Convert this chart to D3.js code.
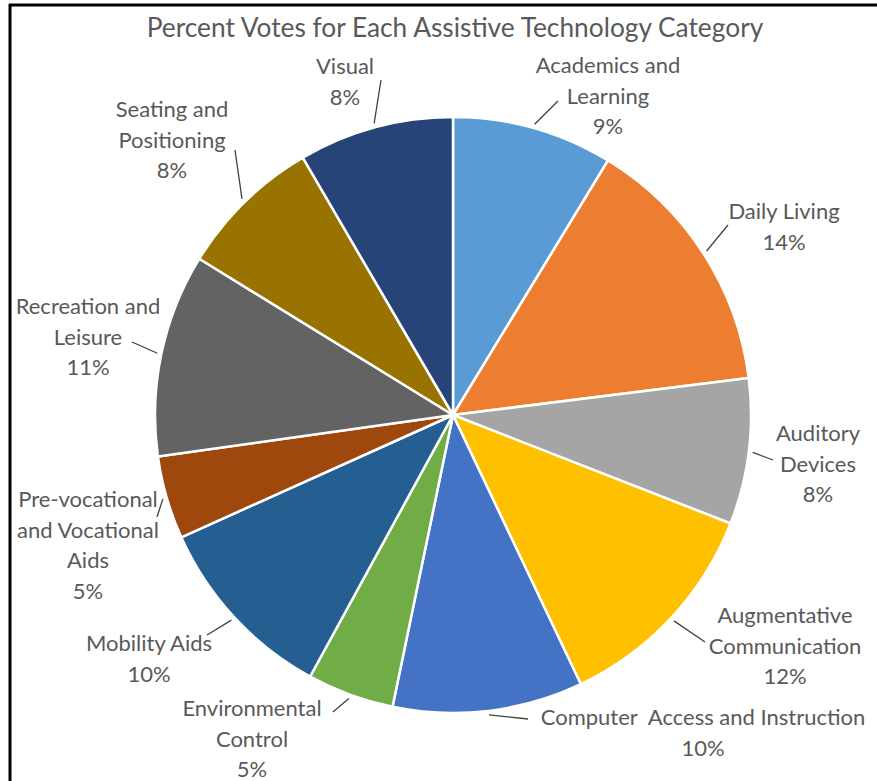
<!DOCTYPE html>
<html>
<head>
<meta charset="utf-8">
<script src="https://cdn.jsdelivr.net/npm/d3@7"></script>
<style>
  body { margin: 0; background: #fff; }
  svg { display: block; font-family: Lato, "Open Sans", sans-serif; }
</style>
</head>
<body>
<svg id="chart" width="877" height="781"></svg>
<script>
"use strict";

// slices, clockwise from 12 o'clock
let categories = [
    "Academics and Learning", "Daily Living", "Auditory Devices",
    "Augmentative Communication", "Computer  Access and Instruction",
    "Environmental Control", "Mobility Aids",
    "Pre-vocational and Vocational Aids", "Recreation and Leisure",
    "Seating and Positioning", "Visual"
];
let percents = [8.7, 14.3, 7.9, 12.0, 10.3, 4.7, 10.3, 4.5, 11.0, 7.8, 8.4];
let labelLines = [
    ["Academics and", "Learning"],
    ["Daily Living"],
    ["Auditory", "Devices"],
    ["Augmentative", "Communication"],
    ["Computer  Access and Instruction"],
    ["Environmental", "Control"],
    ["Mobility Aids"],
    ["Pre-vocational", "and Vocational", "Aids"],
    ["Recreation and", "Leisure"],
    ["Seating and", "Positioning"],
    ["Visual"]
];
let colors = ["#5b9bd5", "#ed7d31", "#a5a5a5", "#ffc000", "#4472c4", "#70ad47",
              "#255e91", "#9e480e", "#636363", "#997300", "#264478"];

// label placement: text centre x, first baseline y, leader end point
let labelLayout = [
    {x: 608, y: 73,  lx: 558, ly: 101},
    {x: 784, y: 219, lx: 728, ly: 225},
    {x: 818, y: 441, lx: 773, ly: 460},
    {x: 785, y: 623, lx: 705, ly: 642},
    {x: 703, y: 725, lx: 528, ly: 719},
    {x: 252, y: 716, lx: 333, ly: 712},
    {x: 149, y: 651, lx: 207, ly: 635},
    {x: 88,  y: 507, lx: 157, ly: 517},
    {x: 88,  y: 314, lx: 132, ly: 342},
    {x: 172, y: 117, lx: 235, ly: 150},
    {x: 345, y: 74,  lx: 381, ly: 80}
];

let width = 877, height = 781;
let cx = 453, cy = 415, radius = 298;
let lineHeight = 30.5;

let svg = d3.select("#chart");

// frame edges (top and left only, as in the screenshot)
svg.append("line")
    .attr("x1", 9).attr("y1", 5).attr("x2", width).attr("y2", 5)
    .style("stroke", "#000").style("stroke-width", 3);
svg.append("line")
    .attr("x1", 10).attr("y1", 4).attr("x2", 10).attr("y2", height)
    .style("stroke", "#000").style("stroke-width", 3);

svg.append("text")
    .attr("x", 455)
    .attr("y", 37)
    .attr("text-anchor", "middle")
    .style("font-size", "26.3px")
    .style("fill", "#595959")
    .text("Percent Votes for Each Assistive Technology Category");

let pie = d3.pie().sort(null).value(d => d);
let arcs = pie(percents);

let arc = d3.arc().innerRadius(0).outerRadius(radius);
let edgeArc = d3.arc().innerRadius(radius + 4).outerRadius(radius + 4);

let g = svg.append("g").attr("transform", `translate(${cx},${cy})`);

g.selectAll("path.slice")
    .data(arcs)
    .enter().append("path")
    .attr("class", "slice")
    .attr("d", arc)
    .style("fill", (d, i) => colors[i])
    .style("stroke", "#fff")
    .style("stroke-width", 2.5)
    .style("stroke-linejoin", "round");

// leader lines
svg.selectAll("line.leader")
    .data(arcs)
    .enter().append("line")
    .attr("class", "leader")
    .attr("x1", d => cx + edgeArc.centroid(d)[0])
    .attr("y1", d => cy + edgeArc.centroid(d)[1])
    .attr("x2", (d, i) => labelLayout[i].lx)
    .attr("y2", (d, i) => labelLayout[i].ly)
    .style("stroke", "#404040")
    .style("stroke-width", 1.3);

// labels
let fmt = v => Math.round(v) + "%";

svg.selectAll("text.label")
    .data(arcs)
    .enter().append("text")
    .attr("class", "label")
    .attr("text-anchor", "middle")
    .style("font-size", "22px")
    .style("fill", "#595959")
    .each(function(d, i) {
        let t = d3.select(this);
        let lines = labelLines[i].concat([fmt(d.data)]);
        lines.forEach((s, k) => {
            t.append("tspan")
                .attr("x", labelLayout[i].x)
                .attr("y", labelLayout[i].y + k * lineHeight)
                .style("white-space", "pre")
                .text(s);
        });
    });
</script>
</body>
</html>
